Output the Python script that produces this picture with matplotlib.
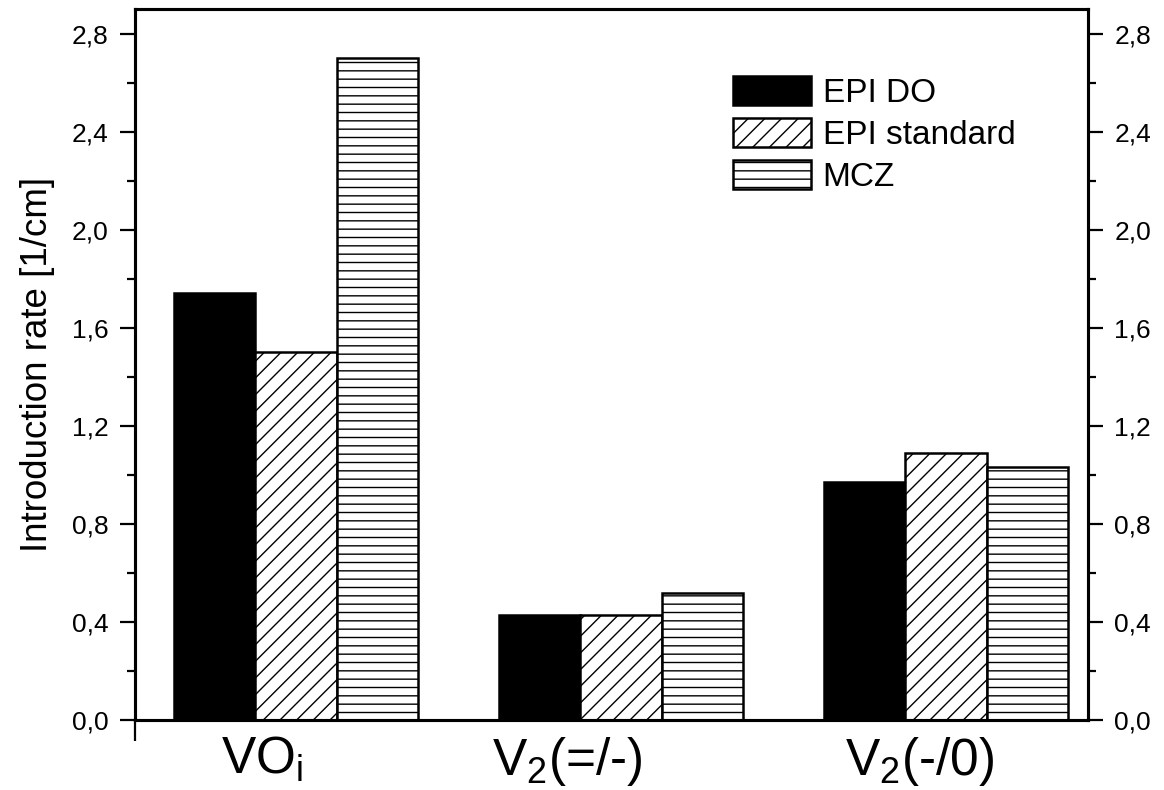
import numpy as np
import matplotlib
matplotlib.use("Agg")
import matplotlib.pyplot as plt
from matplotlib.ticker import MultipleLocator, FuncFormatter

categories = ["VO$_{\\mathrm{i}}$", "V$_{\\mathrm{2}}$(=/-)", "V$_{\\mathrm{2}}$(-/0)"]
series_names = ["EPI DO", "EPI standard", "MCZ"]
epi_do = [1.74, 0.43, 0.97]
epi_std = [1.50, 0.43, 1.09]
mcz = [2.70, 0.52, 1.03]
yticks = [0.0, 0.4, 0.8, 1.2, 1.6, 2.0, 2.4, 2.8]

plt.rcParams["font.family"] = ["Liberation Sans", "DejaVu Sans"]
plt.rcParams["hatch.linewidth"] = 1.0
plt.rcParams["mathtext.fontset"] = "custom"
plt.rcParams["mathtext.rm"] = "Liberation Sans"
plt.rcParams["mathtext.it"] = "Liberation Sans:italic"
plt.rcParams["mathtext.bf"] = "Liberation Sans:bold"

fig = plt.figure(figsize=(11.64, 7.9), dpi=100)
ax = fig.add_axes([135 / 1164, 70 / 790, (1088 - 135) / 1164, (720 - 9) / 790])

x = np.arange(1, len(categories) + 1)
w = 0.25
styles = [dict(color="black", edgecolor="black"),
          dict(color="white", edgecolor="black", hatch="//"),
          dict(color="white", edgecolor="black", hatch="--")]
for i, (vals, name, st) in enumerate(zip([epi_do, epi_std, mcz], series_names, styles)):
    ax.bar(x + (i - 1) * w, vals, w, label=name, linewidth=1.8, **st)

ax.set_xlim(0.505, 3.437)
ax.set_ylim(0, 2.9)

fmt = FuncFormatter(lambda v, p: f"{v:.1f}".replace(".", ","))
ax.set_yticks(yticks)
ax.yaxis.set_major_formatter(fmt)
ax.yaxis.set_minor_locator(MultipleLocator(0.2))
ax.tick_params(axis="y", which="major", direction="out", length=11, width=1.6,
               labelsize=19, pad=8)
ax.tick_params(axis="y", which="minor", direction="out", length=6, width=1.6)

label_offsets = [-0.105, -0.165, -0.08]
ax.set_xticks(x + np.array(label_offsets))
ax.set_xticklabels(categories, fontsize=37)
ax.tick_params(axis="x", which="major", length=0, pad=11)
ax.set_xticks([0.505], minor=True)
ax.tick_params(axis="x", which="minor", direction="out", length=15, width=1.6)

ax2 = ax.twinx()
ax2.set_ylim(ax.get_ylim())
ax2.set_yticks(yticks)
ax2.yaxis.set_major_formatter(fmt)
ax2.yaxis.set_minor_locator(MultipleLocator(0.2))
ax2.tick_params(axis="y", which="major", direction="out", length=11, width=1.6,
                labelsize=19, pad=8)
ax2.tick_params(axis="y", which="minor", direction="out", length=6, width=1.6)

for a in (ax, ax2):
    for s in a.spines.values():
        s.set_linewidth(2.2)

ax.set_ylabel("Introduction rate [1/cm]", fontsize=26.5, labelpad=12)

ax.legend(loc="upper left", bbox_to_anchor=(0.613, 0.924), frameon=False,
          fontsize=24, handlelength=2.34, handleheight=0.93, handletextpad=0.36,
          labelspacing=0.28, borderaxespad=0)

fig.savefig("out.png", dpi=100)
